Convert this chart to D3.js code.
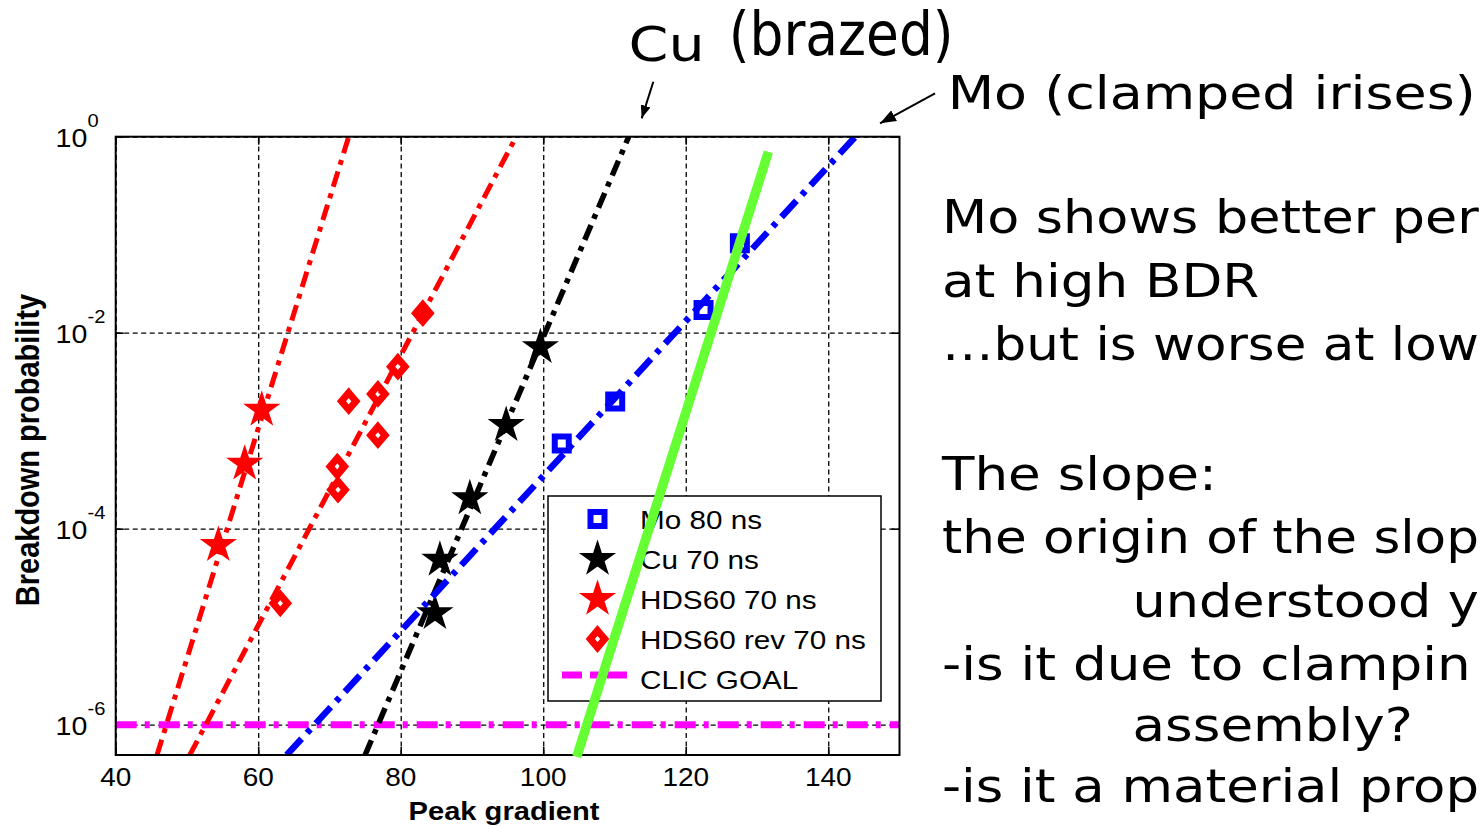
<!DOCTYPE html>
<html>
<head>
<meta charset="utf-8">
<script src="https://cdn.jsdelivr.net/npm/d3@7/dist/d3.min.js"></script>
<style>
html,body{margin:0;padding:0;background:#fff;overflow:hidden;}
svg{display:block;}
</style>
</head>
<body>
<svg id="chart" width="1481" height="827"></svg>
<script>
// ================= DATA =================
const xTickValues = [40, 60, 80, 100, 120, 140];
const yTickExponents = [0, -2, -4, -6];

const moGradient = [102.6, 110.1, 122.5, 127.6];
const moProbability = [7.4e-4, 1.98e-3, 1.7e-2, 8.2e-2];

const cuGradient = [84.8, 85.5, 89.7, 94.8, 99.6];
const cuProbability = [1.37e-5, 4.8e-5, 2.04e-4, 1.14e-3, 7.1e-3];

const hdsGradient = [54.4, 58.1, 60.5];
const hdsProbability = [6.8e-5, 4.6e-4, 1.63e-3];

const hdsRevGradient = [63.1, 71.1, 71.2, 72.7, 76.8, 76.8, 79.6, 83.1];
const hdsRevProbability = [1.73e-5, 4.3e-4, 2.5e-4, 2.0e-3, 9.0e-4, 2.37e-3, 4.5e-3, 1.58e-2];

// fitted trend lines: end points (gradient, probability)
const moFitGradient = [64.0, 143.8];
const moFitProbability = [4.9e-7, 1];
const cuFitGradient = [75.0, 112.0];
const cuFitProbability = [4.9e-7, 1];
const hdsFitGradient = [45.8, 72.7];
const hdsFitProbability = [4.9e-7, 1];
const hdsRevFitGradient = [50.4, 96.2];
const hdsRevFitProbability = [4.9e-7, 1];

const clicGoalProbability = 1e-6;
const clicGoalGradient = [40, 150];

// hand-drawn green slope annotation
const greenGradient = [104.7, 131.6];
const greenProbability = [4.7e-7, 0.70];

// annotation arrows (tail -> tip), in data coordinates
const cuArrowGradient = [115.45, 113.82];
const cuArrowProbability = [3.64, 1.54];
const moArrowGradient = [154.99, 147.27];
const moArrowProbability = [2.77, 1.37];

const legendLabels = ["Mo 80 ns", "Cu 70 ns", "HDS60 70 ns", "HDS60 rev 70 ns", "CLIC GOAL"];

// slide notes, as far as they are visible in the (cropped) slide
const noteLines = [
  "Mo shows better per",
  "at high BDR",
  "\u2026but is worse at low",
  "The slope:",
  "the origin of the slop",
  "understood y",
  "-is it due to clampin",
  "assembly?",
  "-is it a material prop"
];

// ================= SETUP =================
const svg = d3.select('#chart');
const M = {left: 115.7, right: 899.5, top: 136.7, bottom: 755};
const x = d3.scaleLinear().domain([40, 150]).range([M.left, M.right]);
const y = d3.scaleLog().domain([4.9e-7, 1]).range([M.bottom, M.top]);

const chartFont = "'Liberation Sans', Arial, Helvetica, sans-serif";
const slideFont = "'DejaVu Sans', Verdana, sans-serif";
const SX = 1.12; // horizontal stretch of the original slide

const defs = svg.append('defs');
defs.append('clipPath').attr('id', 'plotClip').append('rect')
  .attr('x', M.left).attr('y', M.top)
  .attr('width', M.right - M.left).attr('height', M.bottom - M.top);

function arrowMarker(id, len, wid) {
  defs.append('marker').attr('id', id)
    .attr('markerUnits', 'userSpaceOnUse')
    .attr('markerWidth', len).attr('markerHeight', wid)
    .attr('refX', len).attr('refY', wid / 2)
    .attr('orient', 'auto')
    .attr('viewBox', `0 0 ${len} ${wid}`)
    .append('path').attr('d', `M0,0L${len},${wid / 2}L0,${wid}Z`).attr('fill', '#000');
}
arrowMarker('arrCu', 13, 10);
arrowMarker('arrMo', 16, 12);

function zip(a, b) { return a.map((v, i) => [v, b[i]]); }

function sText(parent, str, px, py, size, sx, o = {}) {
  const t = parent.append('text')
    .attr('transform', `translate(${px},${py}) scale(${sx},1)${o.rotate ? ` rotate(${o.rotate})` : ''}`)
    .attr('x', 0).attr('y', 0)
    .attr('font-family', o.family || chartFont)
    .attr('font-size', size)
    .attr('font-weight', o.weight || 'normal')
    .attr('text-anchor', o.anchor || 'start')
    .attr('fill', '#000')
    .text(str);
  return t;
}

// ================= GRID =================
const plotH = M.bottom - M.top, plotW = M.right - M.left;
const gridX = svg.append('g').attr('transform', `translate(0,${M.bottom})`)
  .call(d3.axisBottom(x).tickValues(xTickValues).tickSize(-plotH).tickFormat(''));
const gridY = svg.append('g').attr('transform', `translate(${M.left},0)`)
  .call(d3.axisLeft(y).tickValues(yTickExponents.map(e => Math.pow(10, e))).tickSize(-plotW).tickFormat(''));
[gridX, gridY].forEach(g => {
  g.select('.domain').remove();
  g.selectAll('.tick line').attr('stroke', '#000').attr('stroke-width', 1.3).attr('stroke-dasharray', '5,3.5');
});

// ================= TICKS (inward) =================
const tickLen = 8;
const axB = svg.append('g').attr('transform', `translate(0,${M.bottom})`)
  .call(d3.axisBottom(x).tickValues(xTickValues).tickSize(-tickLen).tickFormat(''));
const axT = svg.append('g').attr('transform', `translate(0,${M.top})`)
  .call(d3.axisTop(x).tickValues(xTickValues).tickSize(-tickLen).tickFormat(''));
const axL = svg.append('g').attr('transform', `translate(${M.left},0)`)
  .call(d3.axisLeft(y).tickValues(yTickExponents.map(e => Math.pow(10, e))).tickSize(-tickLen).tickFormat(''));
const axR = svg.append('g').attr('transform', `translate(${M.right},0)`)
  .call(d3.axisRight(y).tickValues(yTickExponents.map(e => Math.pow(10, e))).tickSize(-tickLen).tickFormat(''));
[axB, axT, axL, axR].forEach(g => {
  g.select('.domain').remove();
  g.selectAll('.tick line').attr('stroke', '#000').attr('stroke-width', 1.6);
});

// ================= DATA MARKERS =================
const plot = svg.append('g');

const starSym = r => d3.symbol(d3.symbolStar, r * r / 0.8908130915292852)();
const squareSym = s => d3.symbol(d3.symbolSquare, s * s)();
const diamondType = {
  draw(ctx, r) {
    ctx.moveTo(0, -r); ctx.lineTo(0.85 * r, 0); ctx.lineTo(0, r); ctx.lineTo(-0.85 * r, 0); ctx.closePath();
  }
};
const diamondSym = r => d3.symbol(diamondType, r)();

function markers(data, pathStr, fill, stroke, sw) {
  plot.append('g').selectAll('path').data(data).join('path')
    .attr('transform', d => `translate(${x(d[0])},${y(d[1])})`)
    .attr('d', pathStr)
    .attr('fill', fill).attr('stroke', stroke).attr('stroke-width', sw)
    .attr('stroke-linejoin', 'miter').attr('stroke-miterlimit', 10);
}
markers(zip(moGradient, moProbability), squareSym(14), 'none', '#0000ff', 6);
markers(zip(cuGradient, cuProbability), starSym(15.5), '#000', '#000', 2.5);
markers(zip(hdsGradient, hdsProbability), starSym(15.5), '#ff0000', '#ff0000', 2.5);
markers(zip(hdsRevGradient, hdsRevProbability), diamondSym(8.5), 'none', '#ff0000', 7);

// ================= FIT LINES =================
const line = d3.line().x(d => x(d[0])).y(d => y(d[1]));
const lines = svg.append('g').attr('clip-path', 'url(#plotClip)').attr('fill', 'none');
function fitLine(gr, pr, color, w, dash) {
  lines.append('path').datum(zip(gr, pr)).attr('d', line)
    .attr('stroke', color).attr('stroke-width', w).attr('stroke-dasharray', dash);
}
fitLine(clicGoalGradient, clicGoalGradient.map(() => clicGoalProbability), '#ff00ff', 7, '21,8,5,9');
fitLine(hdsFitGradient, hdsFitProbability, '#ff0000', 5, '16,7,5,7');
fitLine(hdsRevFitGradient, hdsRevFitProbability, '#ff0000', 5, '16,7,5,7');
fitLine(cuFitGradient, cuFitProbability, '#000000', 5.5, '16,7,5,7');
fitLine(moFitGradient, moFitProbability, '#0000ff', 6.5, '22,8,5,8');

// ================= FRAME =================
svg.append('rect').attr('x', M.left).attr('y', M.top).attr('width', plotW).attr('height', plotH)
  .attr('fill', 'none').attr('stroke', '#000').attr('stroke-width', 2);

// ================= TICK LABELS =================
const labels = svg.append('g');
xTickValues.forEach(v => sText(labels, String(v), x(v), 786, 25, SX, {anchor: 'middle'}));
yTickExponents.forEach(e => {
  const py = y(Math.pow(10, e));
  sText(labels, '10', 55.5, py + 10.5, 25.5, SX);
  sText(labels, String(e), 87.5, py - 10, 18, SX);
});

// axis titles
sText(labels, 'Peak gradient', 504, 820, 26, SX, {anchor: 'middle', weight: 'bold'});
sText(labels, 'Breakdown probability', 38.5, 450, 29, SX, {anchor: 'middle', weight: 'bold', rotate: -90});

// ================= LEGEND =================
const lg = svg.append('g');
const lgBox = {x0: 548, y0: 496, x1: 881, y1: 701};
lg.append('rect').attr('x', lgBox.x0).attr('y', lgBox.y0)
  .attr('width', lgBox.x1 - lgBox.x0).attr('height', lgBox.y1 - lgBox.y0)
  .attr('fill', '#fff').attr('stroke', '#000').attr('stroke-width', 1.5);
const rowY = i => 519 + i * 40;
const mx = 597.5;
lg.append('path').attr('transform', `translate(${mx},${rowY(0)})`).attr('d', squareSym(14))
  .attr('fill', 'none').attr('stroke', '#0000ff').attr('stroke-width', 6);
lg.append('path').attr('transform', `translate(${mx},${rowY(1)})`).attr('d', starSym(15.5))
  .attr('fill', '#000').attr('stroke', '#000').attr('stroke-width', 2.5);
lg.append('path').attr('transform', `translate(${mx},${rowY(2)})`).attr('d', starSym(15.5))
  .attr('fill', '#ff0000').attr('stroke', '#ff0000').attr('stroke-width', 2.5);
lg.append('path').attr('transform', `translate(${mx},${rowY(3)})`).attr('d', diamondSym(8.5))
  .attr('fill', 'none').attr('stroke', '#ff0000').attr('stroke-width', 7).attr('stroke-miterlimit', 10);
lg.append('line').attr('x1', 562).attr('x2', 627).attr('y1', 675).attr('y2', 675)
  .attr('stroke', '#ff00ff').attr('stroke-width', 7).attr('stroke-dasharray', '20,8,9,8');
legendLabels.forEach((t, i) => sText(lg, t, 640, 528.5 + i * 40, 26.5, SX));

// ================= GREEN ANNOTATION =================
svg.append('path').datum(zip(greenGradient, greenProbability)).attr('d', line)
  .attr('fill', 'none').attr('stroke', '#66ff33').attr('stroke-width', 9.5).attr('stroke-linecap', 'butt');

// ================= ARROWS =================
svg.append('path').datum(zip(cuArrowGradient, cuArrowProbability)).attr('d', line)
  .attr('stroke', '#000').attr('stroke-width', 2).attr('fill', 'none').attr('marker-end', 'url(#arrCu)');
svg.append('path').datum(zip(moArrowGradient, moArrowProbability)).attr('d', line)
  .attr('stroke', '#000').attr('stroke-width', 2).attr('fill', 'none').attr('marker-end', 'url(#arrMo)');

// ================= SLIDE TEXT =================
const notes = svg.append('g');
sText(notes, 'Cu', 628.5, 61, 48, 1.19, {family: slideFont});
sText(notes, '(brazed)', 728.7, 55, 60, 0.89, {family: slideFont});
sText(notes, 'Mo (clamped irises)', 947.7, 109, 46, 1.17, {family: slideFont});

const noteX = [942, 942, 942, 942, 942, 1132.5, 942, 1132.5, 942];
const noteY = [233, 297, 360, 490, 553, 617, 680, 741, 802];
const rightLimit = 1479;
noteLines.forEach((t, i) => {
  const el = sText(notes, t, noteX[i], noteY[i], 46, 1.155, {family: slideFont});
  const w = el.node().getComputedTextLength();
  if (noteX[i] + w * 1.155 > rightLimit) {
    const sx = (rightLimit - noteX[i]) / w;
    el.attr('transform', `translate(${noteX[i]},${noteY[i]}) scale(${sx},1)`);
  }
});
</script>
</body>
</html>
